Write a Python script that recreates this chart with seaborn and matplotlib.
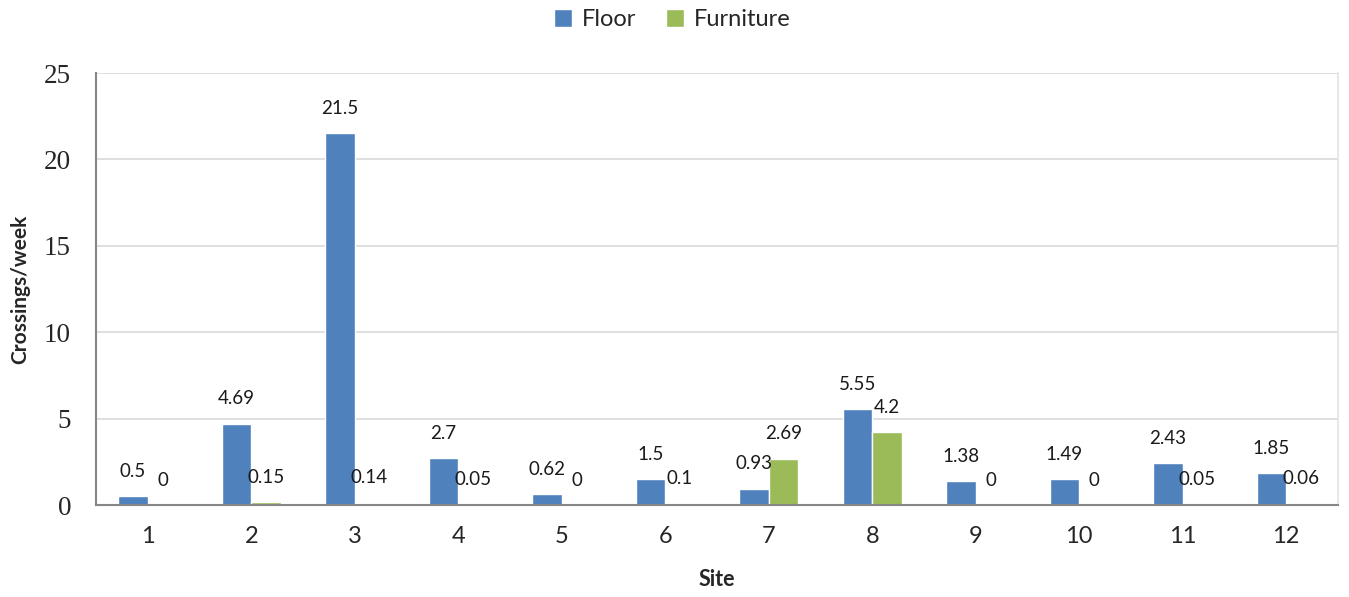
import numpy as np
import pandas as pd
import matplotlib
matplotlib.use("Agg")
import matplotlib.pyplot as plt
import seaborn as sns

sites = [str(i) for i in range(1, 13)]
floor = [0.5, 4.69, 21.5, 2.7, 0.62, 1.5, 0.93, 5.55, 1.38, 1.49, 2.43, 1.85]
furniture = [0, 0.15, 0.14, 0.05, 0, 0.1, 2.69, 4.2, 0, 0, 0.05, 0.06]
series_names = ["Floor", "Furniture"]
colors = ["#4F81BD", "#9BBB59"]
y_ticks = [0, 5, 10, 15, 20, 25]

sns.set_theme(style="white")
plt.rcParams["font.family"] = ["Lato", "DejaVu Sans"]

df = pd.DataFrame({
    "Site": sites * 2,
    "value": floor + furniture,
    "series": [series_names[0]] * len(sites) + [series_names[1]] * len(sites),
})

fig = plt.figure(figsize=(13.49, 5.97), dpi=100)
ax = fig.add_axes([0.0712, 0.1541, 0.9206, 0.7236])

sns.barplot(data=df, x="Site", y="value", hue="series", palette=colors,
            width=0.57, saturation=1, ax=ax, legend=True)

ax.set_xlim(-0.5, 11.5)
ax.set_ylim(0, 25)
ax.set_yticks(y_ticks)
ax.set_yticklabels([str(t) for t in y_ticks], family="Liberation Serif", fontsize=19.5)
ax.grid(axis="y", color="#D9D9D9", linewidth=1.2)
ax.set_axisbelow(True)

for s in ["left", "bottom"]:
    ax.spines[s].set_color("#868686")
    ax.spines[s].set_linewidth(1.5)
ax.spines["top"].set_visible(False)
ax.spines["right"].set_color("#E3E3E3")
ax.spines["right"].set_linewidth(1.2)

ax.tick_params(axis="y", which="major", length=8, width=1.5, color="#868686", pad=10)
ax.tick_params(axis="x", which="major", length=0, labelsize=17, pad=15)
ax.set_xticks(np.arange(-0.5, 12, 1), minor=True)
ax.tick_params(axis="x", which="minor", length=9, width=1.5, color="#868686")

ax.set_xlabel("Site", fontsize=15.5, fontweight="bold", labelpad=16)
ax.set_ylabel("Crossings/week", fontsize=15, fontweight="bold", labelpad=10)

# data labels above each bar
for j, cont in enumerate(ax.containers):
    vals = floor if j == 0 else furniture
    for i, bar in enumerate(cont):
        x = bar.get_x() + bar.get_width() / 2
        ax.annotate(f"{vals[i]:g}", (x, vals[i]), xytext=(0, 18),
                    textcoords="offset points", ha="center", va="center",
                    fontsize=13.5, color="#1a1a1a")

handles, labels = ax.get_legend_handles_labels()
ax.legend(handles, labels, loc="lower center", bbox_to_anchor=(0.464, 1.05),
          ncol=2, frameon=False, fontsize=17, handlelength=0.75, handleheight=0.75,
          handletextpad=0.4, columnspacing=1.3)

fig.savefig("out.png", dpi=100)
